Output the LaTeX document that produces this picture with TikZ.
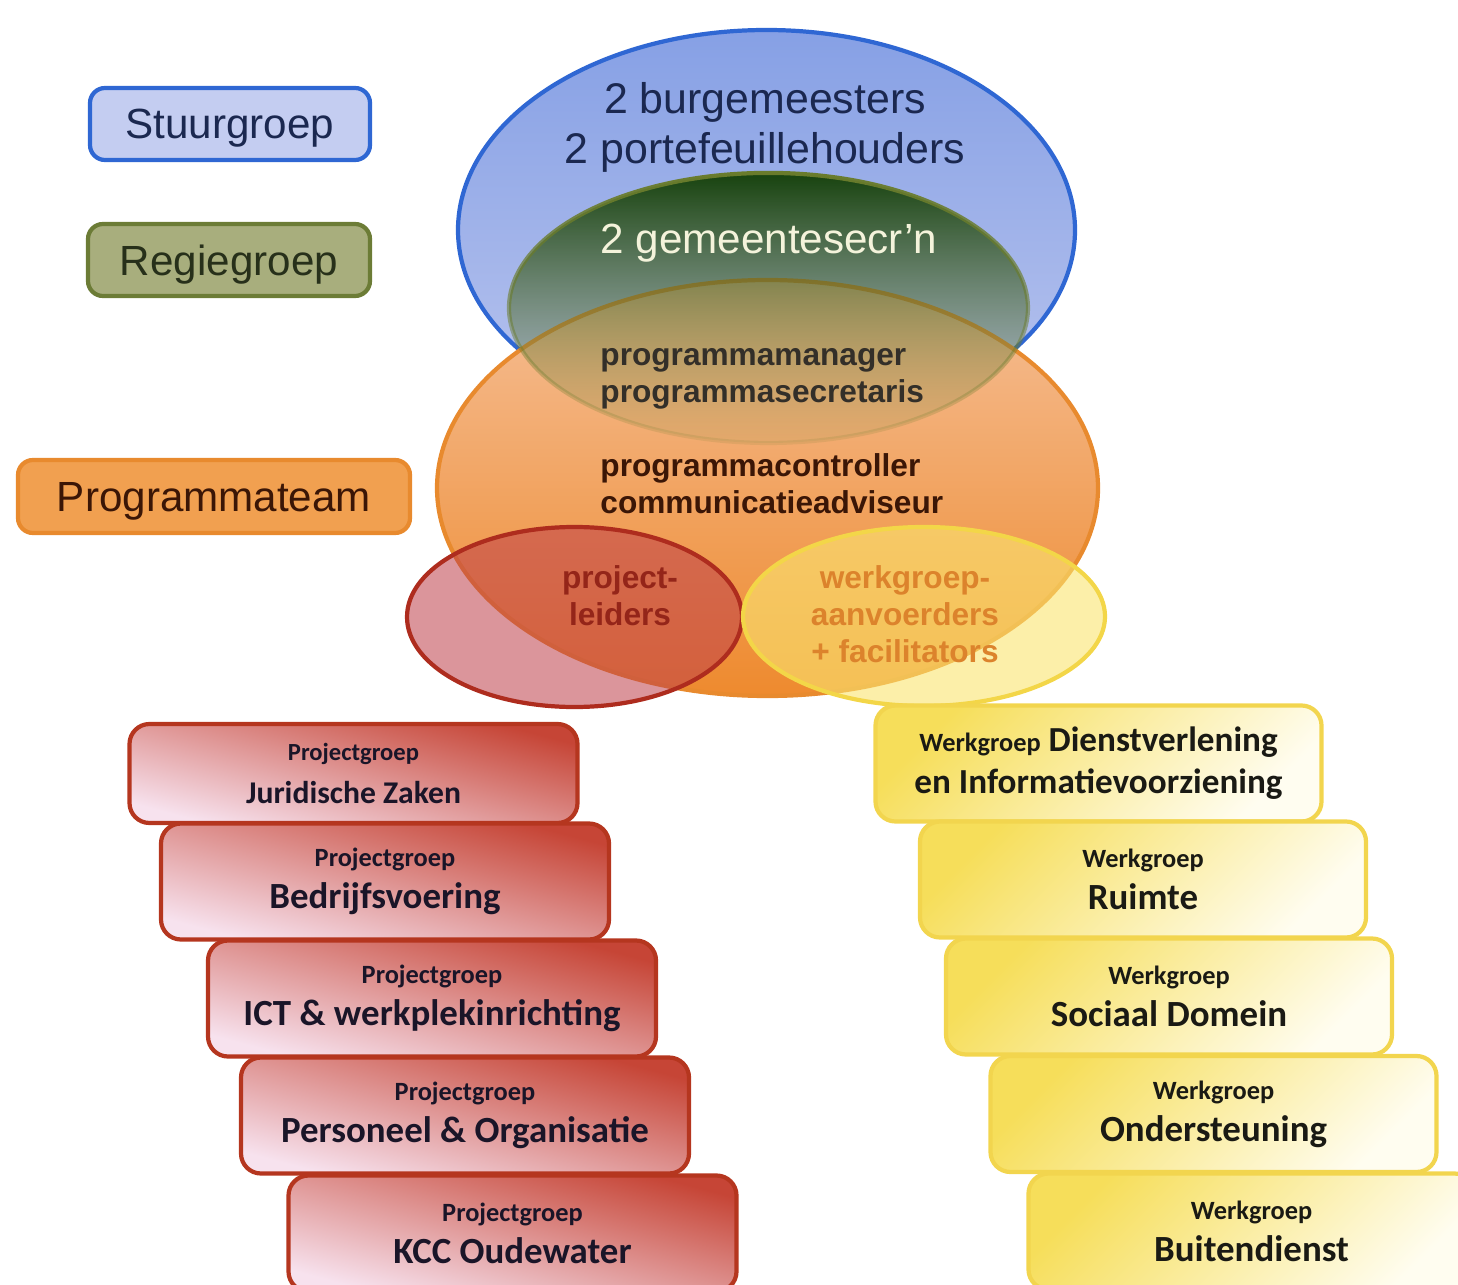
\documentclass[tikz,border=0pt]{standalone}
\usepackage{fontspec}
\setmainfont{Liberation Sans}
\newfontfamily\calibri{Carlito}
\usepackage{tikz}
\usetikzlibrary{shapes,fadings,backgrounds}
\definecolor{stuurfill}{HTML}{C4CDF1}
\definecolor{stuurline}{HTML}{2F67D3}
\definecolor{stuurtext}{HTML}{1B2850}
\definecolor{regiefill}{HTML}{A8AE7D}
\definecolor{regieline}{HTML}{6C7C36}
\definecolor{regietext}{HTML}{27301A}
\definecolor{teamfill}{HTML}{F1A050}
\definecolor{teamline}{HTML}{E88A2E}
\definecolor{teamtext}{HTML}{3B1606}
\definecolor{bluetop}{HTML}{86A0E5}
\definecolor{bluebot}{HTML}{BAC5EE}
\definecolor{orangetop}{HTML}{F5BF97}
\definecolor{orangemid}{HTML}{F3AE7E}
\definecolor{orangebot}{HTML}{EE8A2E}
\definecolor{greentop}{HTML}{17420D}
\definecolor{greenbot}{HTML}{8E9A55}
\definecolor{greenline}{HTML}{6A7C2C}
\definecolor{redfill}{HTML}{BE3E48}
\definecolor{redline}{HTML}{AE2C1E}
\definecolor{yelfill}{HTML}{FAE570}
\definecolor{yelline}{HTML}{F3D648}
\definecolor{prboxtop}{HTML}{C64536}
\definecolor{prboxbot}{HTML}{F7E2EE}
\definecolor{prboxline}{HTML}{B5361F}
\definecolor{prtext}{HTML}{1A1528}
\definecolor{wgboxtop}{HTML}{F6DE5A}
\definecolor{wgboxbot}{HTML}{FFFDF0}
\definecolor{wgboxline}{HTML}{F2D54E}
\definecolor{wgtext}{HTML}{1A1A14}
\tikzfading[name=greenfade, top color=transparent!0, bottom color=transparent!88]
\tikzstyle{legend1}=[rectangle, fill=stuurfill, draw=stuurline, line width=1.2pt, rounded corners=0.15cm, minimum width=2.8cm, minimum height=0.72cm, text depth=0pt, text=stuurtext, font=\fontsize{12}{14}\selectfont]
\tikzstyle{legend2}=[rectangle, fill=regiefill, draw=regieline, line width=1.2pt, rounded corners=0.15cm, minimum width=2.82cm, minimum height=0.72cm, text depth=0pt, text=regietext, font=\fontsize{12}{14}\selectfont]
\tikzstyle{legend3}=[rectangle, fill=teamfill, draw=teamline, line width=1.2pt, rounded corners=0.15cm, minimum width=3.92cm, minimum height=0.73cm, text depth=0pt, text=teamtext, font=\fontsize{12}{14}\selectfont]
\tikzstyle{blueell}=[ellipse, inner sep=0pt, minimum width=6.17cm, minimum height=4cm, draw=stuurline, line width=1.2pt, top color=bluetop, bottom color=bluebot]
\tikzstyle{orangeell}=[ellipse, inner sep=0pt, minimum width=6.61cm, minimum height=4.16cm, draw=teamline, line width=1.2pt, top color=orangetop, middle color=orangemid, bottom color=orangebot]
\tikzstyle{greenell}=[ellipse, inner sep=0pt, minimum width=5.19cm, minimum height=2.7cm, draw=greenline, line width=1.2pt, top color=greentop, bottom color=greenbot, path fading=greenfade]
\tikzstyle{redell}=[ellipse, inner sep=0pt, minimum width=3.35cm, minimum height=1.8cm, draw=redline, line width=1.2pt, fill=redfill, fill opacity=0.55]
\tikzstyle{yelell}=[ellipse, inner sep=0pt, minimum width=3.62cm, minimum height=1.79cm, draw=yelline, line width=1.2pt, fill=yelfill, fill opacity=0.6]
\tikzstyle{prbox}=[rectangle, rounded corners=0.2cm, draw=prboxline, line width=1.2pt, minimum width=4.48cm, minimum height=1.16cm, top color=prboxtop, bottom color=prboxbot, shading angle=-15, align=center, text=prtext, font=\calibri\bfseries]
\tikzstyle{wgbox}=[rectangle, rounded corners=0.2cm, draw=wgboxline, line width=1.2pt, minimum width=4.46cm, minimum height=1.16cm, top color=wgboxtop, bottom color=wgboxbot, shading angle=45, align=center, text=wgtext, font=\calibri\bfseries]
\newcommand{\grpsize}{\fontsize{7.5}{10}\selectfont}
\newcommand{\namesize}{\fontsize{10.5}{13}\selectfont}
\begin{document}
\begin{tikzpicture}
\useasboundingbox (0,0) rectangle (14.58,-12.85);
\clip (0,0) rectangle (14.58,-12.85);
%Legend
\node[legend1] (stuur) at (2.30,-1.24){Stuurgroep};
\node[legend2] (regie) at (2.29,-2.60){Regiegroep};
\node[legend3] (team) at (2.14,-4.965){Programmateam};
%Ellipses
\node[blueell] (stuurell) at (7.665,-2.30){};
\node[orangeell] (teamell) at (7.675,-4.88){};
\node[greenell] (regieell) at (7.685,-3.08){};
\node[redell] (leidersell) at (5.745,-6.17){};
\node[yelell] (aanvoerell) at (9.24,-6.165){};
%Ellipse texts
\node[align=center, text=stuurtext, font=\fontsize{12.2}{14.2}\selectfont] (bestuur) at (7.65,-1.27){2 burgemeesters\\2 portefeuillehouders};
\node[text=white!90!olive, font=\fontsize{12}{14}\selectfont] (secr) at (7.69,-2.43){2 gemeentesecr’n};
\node[anchor=west, align=left, text=black!85!olive, font=\fontsize{9}{10.5}\selectfont\bfseries] (pmsec) at (5.88,-3.785){programmamanager\\programmasecretaris};
\node[anchor=west, align=left, text=teamtext, font=\fontsize{9}{10.5}\selectfont\bfseries] (pcca) at (5.88,-4.835){programmacontroller\\communicatieadviseur};
\node[align=center, text=redline!85!black, font=\fontsize{9}{10.5}\selectfont\bfseries] (pleiders) at (6.20,-5.96){project-\\leiders};
\node[align=center, text=teamline!95!black, font=\fontsize{9}{10.5}\selectfont\bfseries] (aanvoerders) at (9.05,-6.145){werkgroep-\\aanvoerders\\+ facilitators};
%Projectgroepen
\node[prbox, minimum height=0.99cm] (pg1) at (3.535,-7.735){\fontsize{7}{9}\selectfont Projectgroep\\\fontsize{9}{11}\selectfont Juridische Zaken};
\node[prbox] (pg2) at (3.85,-8.815){\grpsize Projectgroep\\\namesize Bedrijfsvoering};
\node[prbox] (pg3) at (4.32,-9.985){\grpsize Projectgroep\\\namesize ICT \& werkplekinrichting};
\node[prbox] (pg4) at (4.65,-11.155){\grpsize Projectgroep\\\namesize Personeel \& Organisatie};
\node[prbox] (pg5) at (5.125,-12.335){\grpsize Projectgroep\\\namesize KCC Oudewater};
%Werkgroepen
\node[wgbox] (wg1) at (10.985,-7.635){{\grpsize Werkgroep} \fontsize{10}{12.5}\selectfont Dienstverlening\\\fontsize{10}{12.5}\selectfont en Informatievoorziening};
\node[wgbox] (wg2) at (11.43,-8.795){\grpsize Werkgroep\\\namesize Ruimte};
\node[wgbox] (wg3) at (11.69,-9.965){\grpsize Werkgroep\\\namesize Sociaal Domein};
\node[wgbox] (wg4) at (12.135,-11.14){\grpsize Werkgroep\\\namesize Ondersteuning};
\node[wgbox] (wg5) at (12.515,-12.315){\grpsize Werkgroep\\\namesize Buitendienst};
\end{tikzpicture}
\end{document}
